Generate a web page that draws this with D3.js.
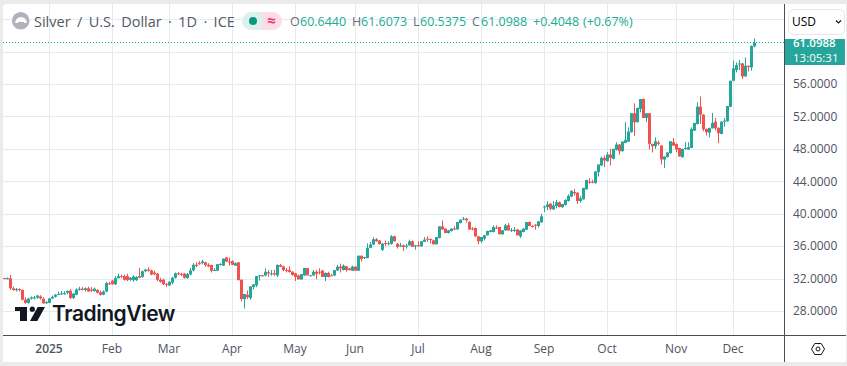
<!DOCTYPE html>
<html><head><meta charset="utf-8">
<script src="https://cdn.jsdelivr.net/npm/d3@7/dist/d3.min.js"></script>
<style>html,body{margin:0;padding:0;background:#ebebeb;overflow:hidden}svg{display:block}text{font-family:"Open Sans",sans-serif}</style>
</head><body><div id="chart"></div>
<script>
const monthLabels = ["2025","Feb","Mar","Apr","May","Jun","Jul","Aug","Sep","Oct","Nov","Dec"];
const monthBarIndex = [15,36,55,76,97,117,138,159,180,201,224,243];
const priceTicks = [28,32,36,40,44,48,52,56];
const gridPrices = [28,32,36,40,44,48,52,56,60,64];
const opens = [
32.05,31.95,32.03,30.8,30.6,30.7,30.6,29.4,29.0,29.55,
29.6,29.65,29.8,29.5,28.95,29.0,29.55,29.75,30.05,30.1,
30.15,30.25,30.5,29.6,30.0,30.65,30.75,30.6,30.8,30.65,
30.45,30.6,30.3,30.0,30.4,31.4,31.75,31.3,32.05,32.3,
32.3,32.3,31.85,31.8,31.8,32.3,32.2,32.9,33.1,33.0,
32.75,32.6,31.85,31.85,31.35,31.15,31.5,32.1,32.65,32.6,
32.6,32.05,32.5,33.0,33.7,33.9,33.9,34.0,33.7,33.68,
33.0,32.97,33.75,33.6,34.6,34.1,34.15,33.6,34.0,31.85,
29.47,30.0,29.6,30.95,31.16,32.35,32.4,32.38,32.78,32.6,
32.65,32.4,33.65,33.5,33.05,33.05,32.85,32.65,32.38,31.9,
32.38,33.3,32.38,32.38,32.84,32.85,33.0,32.2,32.7,32.4,
32.38,33.0,33.47,33.05,33.5,33.26,32.97,33.47,32.97,34.82,
34.55,34.53,35.79,36.2,36.84,36.7,35.55,36.4,36.3,36.25,
37.21,36.3,36.05,36.1,36.0,36.1,36.6,36.05,36.1,35.98,
36.55,36.93,36.89,36.72,36.23,37.01,38.44,38.16,37.62,37.87,
38.16,38.07,38.85,39.3,39.39,39.0,38.16,38.24,37.21,36.6,
36.93,37.34,37.75,37.75,38.28,38.36,37.46,37.95,38.57,37.95,
37.95,38.07,37.21,37.75,38.03,38.98,38.48,38.65,38.48,38.93,
40.85,40.82,41.23,40.53,40.95,41.43,40.82,41.08,41.57,42.11,
42.68,42.6,41.57,41.78,43.01,43.95,43.95,43.78,45.13,45.95,
46.89,46.48,47.3,46.77,47.88,48.53,47.71,48.74,48.9,50.05,
52.39,51.28,52.92,54.15,51.81,52.39,48.61,48.33,48.78,48.41,
46.69,46.98,47.47,48.82,48.61,48.1,46.98,48.05,47.92,48.12,
50.25,51.07,53.2,52.22,50.46,50.0,50.54,51.36,50.6,49.84,
51.4,51.4,53.2,56.4,57.71,58.5,58.53,56.93,58.25,58.04,
60.644];
const highs = [
32.1,32.15,32.45,31.0,30.85,30.8,30.65,29.7,29.6,29.8,
29.85,30.0,29.95,29.7,29.2,29.6,29.9,30.1,30.4,30.45,
30.45,30.5,30.7,30.2,30.8,31.0,30.95,30.9,31.0,30.95,
30.9,30.7,30.5,30.55,31.6,31.6,31.85,32.3,32.6,32.5,
32.5,32.6,32.2,32.4,32.3,33.3,33.0,33.2,33.4,33.1,
33.0,32.7,32.1,32.0,31.45,31.7,32.2,32.75,32.8,32.7,
32.7,32.7,33.3,33.9,34.0,34.15,34.32,34.1,33.9,33.7,
33.3,33.8,33.9,34.5,34.65,34.6,34.25,34.0,34.05,31.9,
30.1,30.53,31.05,31.3,32.3,32.45,32.45,33.25,33.05,33.05,
33.1,33.75,33.8,33.6,33.3,33.5,32.9,32.7,32.5,32.55,
33.3,33.3,32.45,33.05,33.05,33.26,33.05,32.75,32.85,32.55,
33.05,33.68,33.85,33.75,33.55,33.3,33.6,33.5,34.85,34.85,
34.7,36.34,36.5,37.09,37.0,36.75,36.4,36.7,36.6,37.35,
37.3,36.4,36.4,36.2,36.3,36.8,36.7,36.15,36.6,36.62,
37.13,37.21,36.95,36.8,37.13,38.44,39.18,38.2,38.0,38.2,
38.44,39.0,39.3,39.59,39.5,39.05,38.36,38.3,37.25,37.13,
37.4,37.9,38.0,38.57,38.57,38.4,38.0,38.77,38.85,38.24,
38.36,38.1,37.95,38.2,38.98,39.05,38.6,38.7,39.06,40.0,
41.0,41.52,41.3,41.56,41.7,41.5,41.2,41.8,42.4,42.9,
43.05,42.62,42.2,43.2,44.2,44.39,44.19,45.25,46.1,47.05,
47.18,47.59,48.0,48.0,48.82,48.6,48.9,51.28,50.66,52.4,
53.61,53.1,54.15,54.2,52.39,52.4,48.65,49.43,49.02,48.45,
47.06,47.6,48.94,49.35,48.65,48.15,48.0,48.82,48.82,50.66,
51.2,53.74,54.48,52.3,50.5,50.6,52.43,51.81,50.65,51.4,
51.81,53.3,56.4,58.86,58.66,58.98,58.6,59.27,58.3,60.75,
61.6073];
const lows = [
31.95,31.9,30.6,30.5,30.4,30.4,29.3,28.9,28.9,29.4,
29.45,29.5,29.4,28.9,28.9,28.95,29.5,29.65,29.95,30.0,
30.0,30.05,29.5,29.5,29.95,30.5,30.55,30.4,30.4,30.35,
30.4,30.15,29.9,29.95,30.3,31.25,31.25,31.2,32.0,32.1,
31.75,31.7,31.7,31.6,31.7,32.05,32.1,32.8,32.85,32.4,
32.4,31.7,31.5,31.2,30.95,31.1,31.3,32.0,32.4,32.3,
32.0,32.0,32.4,32.9,33.4,33.7,33.75,33.45,33.4,32.75,
32.95,32.95,33.6,33.55,34.05,33.6,33.65,33.55,31.8,29.18,
28.3,29.5,29.4,30.65,30.95,31.75,32.25,32.3,32.2,32.35,
32.35,32.2,33.4,32.9,32.75,32.75,32.35,31.7,31.9,31.85,
32.35,32.4,32.3,32.35,31.92,32.5,32.2,31.7,32.15,32.35,
32.3,32.95,32.75,33.0,32.85,33.0,32.95,32.97,32.95,34.1,
34.4,34.5,35.75,36.15,36.55,36.2,35.4,36.0,36.1,36.2,
36.55,35.7,35.9,35.41,35.7,36.05,35.9,35.57,35.9,35.95,
36.5,36.52,36.31,36.2,36.2,36.95,38.0,37.6,37.55,37.8,
38.0,38.0,38.8,39.2,38.95,38.0,37.95,37.13,36.23,36.39,
36.7,37.3,37.7,37.7,38.1,37.46,37.4,37.9,37.9,37.75,
37.75,37.34,37.01,37.7,38.0,38.48,38.3,38.03,38.3,38.9,
40.2,40.41,40.41,40.5,40.67,40.8,40.7,41.0,41.5,42.05,
42.23,41.2,41.37,41.75,43.0,43.7,43.75,43.7,44.6,45.9,
45.75,46.45,45.95,46.7,47.8,47.3,47.65,48.7,48.85,50.0,
49.6,51.25,52.5,51.8,51.28,47.92,47.55,48.0,48.41,46.07,
45.62,46.95,47.4,48.35,47.59,47.06,46.9,47.88,47.88,48.1,
50.2,51.0,51.07,50.17,49.64,49.43,50.5,50.25,48.7,49.8,
50.75,51.35,53.15,56.35,57.43,57.71,56.61,56.9,57.55,57.63,
60.5375];
const closes = [
32.0,32.05,30.8,30.6,30.7,30.6,29.4,29.0,29.55,29.7,
29.65,29.9,29.55,28.95,29.1,29.55,29.75,30.0,30.1,30.15,
30.2,30.5,29.6,30.15,30.65,30.75,30.6,30.8,30.4,30.5,
30.75,30.25,30.0,30.4,31.45,31.3,31.3,32.05,32.3,32.25,
31.85,31.8,32.1,32.25,32.2,32.1,32.9,33.1,32.95,32.5,
32.55,31.85,31.6,31.3,31.3,31.6,32.1,32.65,32.6,32.55,
32.1,32.55,33.0,33.7,33.55,33.85,34.1,33.68,33.5,32.97,
33.05,33.78,33.8,34.45,34.1,34.05,33.7,33.9,31.8,29.47,
30.1,29.7,31.03,31.28,32.3,32.4,32.3,32.84,32.63,32.65,
32.5,33.68,33.45,33.05,33.0,32.8,32.45,32.2,31.9,32.55,
33.3,32.4,32.4,32.84,32.6,32.8,32.2,32.7,32.2,32.38,
33.05,33.47,33.26,33.6,33.05,33.05,33.47,32.97,34.82,34.4,
34.65,35.79,36.21,36.84,36.6,36.25,36.31,36.3,36.35,37.21,
36.6,35.9,36.1,35.9,36.05,36.6,35.9,36.1,36.05,36.6,
36.8,36.8,36.8,36.23,37.13,38.44,38.07,37.62,37.95,38.16,
38.15,38.98,39.26,39.39,39.2,38.07,38.15,37.21,36.6,37.13,
37.34,37.87,37.95,38.36,38.2,37.46,37.95,38.57,37.95,37.98,
38.0,37.34,37.95,38.16,38.98,38.48,38.45,38.6,39.06,39.67,
40.9,41.15,40.61,41.02,41.41,40.82,41.2,41.7,42.19,42.81,
42.52,41.57,41.9,43.18,44.16,43.9,43.9,45.21,46.07,46.89,
46.57,47.3,46.89,48.0,48.53,47.71,48.9,49.11,50.13,52.39,
51.28,53.04,54.15,51.81,52.39,48.61,48.33,48.94,48.61,46.69,
47.06,47.55,48.94,48.41,47.92,47.06,48.0,48.12,48.2,50.46,
51.2,53.2,52.22,50.42,50.05,50.58,51.2,50.54,49.93,51.36,
51.48,53.29,56.4,57.92,58.33,58.53,56.93,58.25,58.12,60.7,
61.0988];
const lastPrice = 61.0988;
const countdown = "13:05:31";

const W=847,H=366;
const UP="#26a69a",DOWN="#ef5350",GRID="#e1ecf2",AXIS="#4a4d57",TXT="#4f5260";
const svg=d3.select("#chart").append("svg").attr("width",W).attr("height",H);
const paneR=784,axisY=335,paneTop=4,paneBottom=362;
svg.append("path").attr("fill","#fff")
  .attr("d",`M3 ${paneTop+4}Q3 ${paneTop} 7 ${paneTop}H846V${paneBottom}H3Z`);

const x=d3.scaleLinear().domain([0,closes.length-1]).range([4,754]);
const y=d3.scaleLinear().domain([28,56]).range([311,84]);
svg.append("clipPath").attr("id","pane").append("rect").attr("x",3).attr("y",paneTop).attr("width",paneR-3).attr("height",axisY-paneTop);

// grid
const plot=svg.append("g").attr("clip-path","url(#pane)");
plot.append("g").selectAll("line").data(monthBarIndex).join("line")
  .attr("x1",d=>x(d)+.5).attr("x2",d=>x(d)+.5).attr("y1",paneTop).attr("y2",axisY).attr("stroke",GRID);
plot.append("g").selectAll("line").data(gridPrices).join("line")
  .attr("x1",3).attr("x2",paneR).attr("y1",d=>Math.round(y(d))+.5).attr("y2",d=>Math.round(y(d))+.5).attr("stroke",GRID);

// last price line
plot.append("line").attr("x1",3).attr("x2",paneR)
  .attr("y1",Math.floor(y(lastPrice))+.5).attr("y2",Math.floor(y(lastPrice))+.5)
  .attr("stroke","#14a89a").attr("stroke-dasharray","1 2");

// candles
const idx=d3.range(closes.length);
const col=i=>closes[i]>=opens[i]?UP:DOWN;
plot.append("g").selectAll("rect").data(idx).join("rect")
  .attr("x",i=>Math.round(x(i)))
  .attr("width",1)
  .attr("y",i=>y(highs[i]))
  .attr("height",i=>Math.max(1,y(lows[i])-y(highs[i])))
  .attr("fill",col);
plot.append("g").selectAll("rect").data(idx).join("rect")
  .attr("x",i=>Math.round(x(i))-1)
  .attr("width",3)
  .attr("y",i=>y(Math.max(opens[i],closes[i])))
  .attr("height",i=>Math.max(1,Math.abs(y(opens[i])-y(closes[i]))))
  .attr("fill",col);

// TradingView watermark
const wm=svg.append("g").attr("fill","#131722");
wm.append("path").attr("d","M15 307H27V321H20V311H15Z");
wm.append("circle").attr("cx",32.3).attr("cy",309.2).attr("r",2.6);
wm.append("path").attr("d","M37.7 307H45L37.3 321H30Z");
wm.append("text").attr("x",52).attr("y",321).attr("font-size",21).attr("font-weight",600)
  .style("font-family","Inter,sans-serif").attr("letter-spacing","-0.45").text("TradingView");

// axes frame
svg.append("line").attr("x1",3).attr("x2",846).attr("y1",axisY+.5).attr("y2",axisY+.5).attr("stroke",AXIS);
svg.append("line").attr("x1",paneR+.5).attr("x2",paneR+.5).attr("y1",paneTop).attr("y2",paneBottom).attr("stroke",AXIS);

// x axis labels
const xAxis=d3.axisBottom(x).tickValues(monthBarIndex).tickSize(0).tickPadding(0)
  .tickFormat((d,i)=>monthLabels[i]);
const xg=svg.append("g").attr("transform",`translate(-0.5,${axisY+9})`).call(xAxis);
xg.select(".domain").remove();
xg.selectAll("text").attr("font-size",12).attr("fill",TXT).attr("dy",".71em")
  .style("font-family",'"Open Sans",sans-serif')
  .attr("font-weight",(d,i)=>i===0?600:400);

// y axis labels
const yAxis=d3.axisRight(y).tickValues(priceTicks).tickSize(0).tickPadding(0).tickFormat(d=>d.toFixed(4));
const yg=svg.append("g").attr("transform",`translate(793,0)`).call(yAxis);
yg.select(".domain").remove();
yg.selectAll("text").attr("font-size",12).attr("fill",TXT).style("font-family",'"Open Sans",sans-serif');

// price label
svg.append("rect").attr("x",785).attr("y",39).attr("width",60).attr("height",26).attr("fill",UP);
svg.append("text").attr("x",793).attr("y",46.5).attr("fill","#fff").attr("font-size",11.5).attr("font-weight",600).text(lastPrice.toFixed(4));
svg.append("text").attr("x",793).attr("y",61.5).attr("fill","#fff").attr("font-size",11.5).text(countdown);

// currency button
svg.append("rect").attr("x",788.5).attr("y",9.5).attr("width",56).attr("height",25).attr("rx",5).attr("fill","#fff").attr("stroke","#e6e8ee");
svg.append("text").attr("x",792).attr("y",26).attr("font-size",12).attr("fill","#000").text("USD");
svg.append("path").attr("d","M836 20.5L838.5 23L841 20.5").attr("fill","none").attr("stroke","#131722").attr("stroke-width",1.2);

// legend
svg.append("circle").attr("cx",20.7).attr("cy",20.7).attr("r",8.8).attr("fill","#b2b0bd");
svg.append("path").attr("d","M15 23H27Q26 17 21 17Q16 17 15 23Z").attr("fill","#fff");
svg.append("rect").attr("x",18).attr("y",22).attr("width",6).attr("height",1.5).attr("fill","#b2b0bd");
svg.append("text").attr("x",34).attr("y",27).attr("font-size",14.5).attr("word-spacing",2.6).attr("fill","#555864").text("Silver / U.S. Dollar · 1D · ICE");
svg.append("path").attr("d","M262 12H251a9 9 0 0 0 0 18H262Z").attr("fill","#dcf1ee");
svg.append("path").attr("d","M262 12H273a9 9 0 0 1 0 18H262Z").attr("fill","#fbdde6");
svg.append("circle").attr("cx",253).attr("cy",21).attr("r",4).attr("fill","#089981");
svg.append("text").attr("x",271.5).attr("y",25.5).attr("text-anchor","middle").attr("font-size",15).attr("font-weight",700).attr("fill","#f23675").text("≈");

const labelsOHLC=["O","H","L","C"];
const legendX=[290,352,413,472];
const valueX=[300,361,420,481];
const legendVals=["60.6440","61.6073","60.5375","61.0988"];
labelsOHLC.forEach((l,i)=>{
  svg.append("text").attr("x",legendX[i]).attr("y",26).attr("font-size",12.5).attr("fill","#6a6d78").text(l);
  svg.append("text").attr("x",valueX[i]).attr("y",26).attr("font-size",12.5).attr("fill","#22ab94").text(legendVals[i]);
});
svg.append("text").attr("x",533).attr("y",26).attr("font-size",12.5).attr("fill","#22ab94").text("+0.4048");
svg.append("text").attr("x",583).attr("y",26).attr("font-size",12.5).attr("fill","#22ab94").text("(+0.67%)");

// settings hexagon
svg.append("path").attr("d","M811.5 349L814.8 343.5H821.2L824.5 349L821.2 354.5H814.8Z").attr("fill","none").attr("stroke","#131722");
svg.append("circle").attr("cx",818).attr("cy",349).attr("r",2).attr("fill","none").attr("stroke","#131722");
</script></body></html>
